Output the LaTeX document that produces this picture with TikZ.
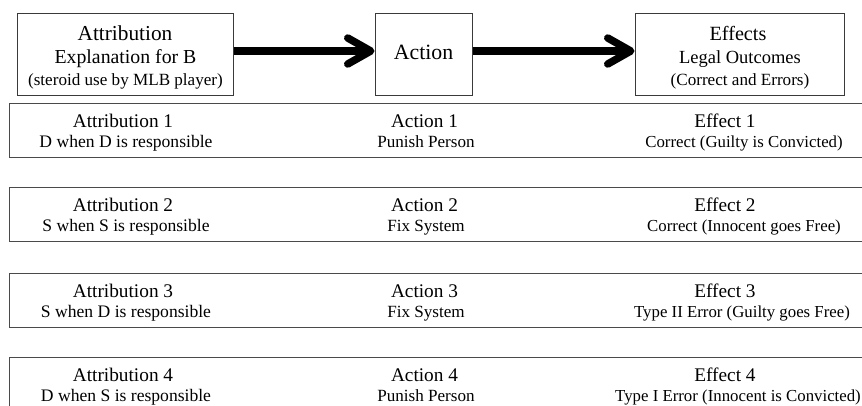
\documentclass[tikz,border=0pt]{standalone}
\usepackage{fontspec}
\setmainfont{Liberation Serif}
\usetikzlibrary{arrows.meta}

\definecolor{frame}{HTML}{3A3A3A}
\definecolor{rowframe}{HTML}{4A4A4A}

% type sizes (1pt = 1px in this picture)
\newcommand{\fsize}[1]{\fontsize{#1}{#1}\selectfont}

\tikzset{
  headbox/.style={draw=frame, line width=1pt, inner sep=0pt},
  rowbox/.style={draw=rowframe, line width=1.2pt, inner sep=0pt},
  txt/.style={anchor=base, inner sep=0pt, text=black},
  bigarrow/.style={line width=7.5pt, -{Straight Barb[length=23pt,width=26pt,round]}}
}

\begin{document}
\begin{tikzpicture}[x=1pt, y=-1pt]
  \clip (0,0) rectangle (862,405);
  \fill[white] (0,0) rectangle (862,405);

  % header boxes
  \node[headbox, minimum width=216pt, minimum height=82pt] (attr) at (125,54) {};
  \node[headbox, minimum width=97pt,  minimum height=82pt] (act)  at (423.5,54) {};
  \node[headbox, minimum width=209pt, minimum height=82pt] (eff)  at (739.5,54) {};

  \node[txt] (attrT) at (125,40)   {\fsize{21.3}Attribution};
  \node[txt] (attrS) at (125.5,63) {\fsize{19.8}Explanation for B};
  \node[txt] (attrN) at (125.5,85) {\fsize{17.1}(steroid use by MLB player)};

  \node[txt] (actT) at (423.5,59) {\fsize{21.8}Action};

  \node[txt] (effT) at (738,40) {\fsize{20.2}Effects};
  \node[txt] (effS) at (740,63) {\fsize{18.5}Legal Outcomes};
  \node[txt] (effN) at (740,85) {\fsize{17.1}(Correct and Errors)};

  % arrows between header boxes
  \draw[bigarrow] (attr.east |- 0,51) coordinate (a1) -- (act.west |- 0,51) coordinate (a2);
  \draw[bigarrow] (act.east |- 0,51) coordinate (b1) -- (eff.west |- 0,51) coordinate (b2);

  % the four outcome rows
  \foreach \i/\top/\att/\actn/\eft/\ex in {
      1/103/D when D is responsible/Punish Person/Correct (Guilty is Convicted)/744,
      2/187/S when S is responsible/Fix System/Correct (Innocent goes Free)/744,
      3/273/S when D is responsible/Fix System/Type II Error (Guilty goes Free)/742,
      4/357/D when S is responsible/Punish Person/Type I Error (Innocent is Convicted)/738} {
    \node[rowbox, minimum width=880pt, minimum height=54pt, anchor=north west]
      (row\i) at (9,\top) {};
    \node[txt] (rA\i) at (123,\top+24) {\fsize{19.3}Attribution \i};
    \node[txt] (rB\i) at (126,\top+44.5) {\fsize{17.6}\att};
    \node[txt] (rC\i) at (424.5,\top+24) {\fsize{19.3}Action \i};
    \node[txt] (rD\i) at (426,\top+44.5) {\fsize{17.1}\actn};
    \node[txt] (rE\i) at (725,\top+24) {\fsize{19.3}Effect \i};
    \node[txt] (rF\i) at (\ex,\top+44.5) {\fsize{16.8}\eft};
  }
\end{tikzpicture}
\end{document}
